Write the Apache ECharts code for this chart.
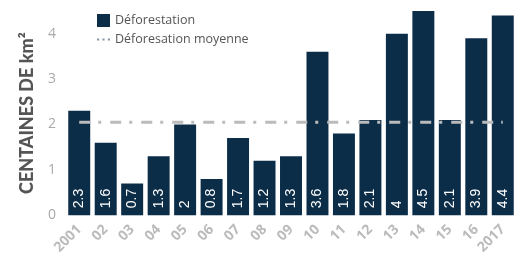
<!DOCTYPE html>
<html>
<head>
<meta charset="utf-8">
<script src="https://cdn.jsdelivr.net/npm/echarts@6/dist/echarts.min.js"></script>
<style>
  html, body { margin: 0; padding: 0; background: #fff; }
  #chart { width: 521px; height: 257px; }
</style>
</head>
<body>
<div id="chart"></div>
<script>
// years and deforestation values (centaines de km2)
var years = ['2001', '02', '03', '04', '05', '06', '07', '08', '09', '10', '11', '12', '13', '14', '15', '16', '2017'];
var deforestation = [2.3, 1.6, 0.7, 1.3, 2, 0.8, 1.7, 1.2, 1.3, 3.6, 1.8, 2.1, 4, 4.5, 2.1, 3.9, 4.4];
var moyenne = 2.05;
var yTicks = [0, 1, 2, 3, 4];

var myChart = echarts.init(document.getElementById('chart'));

var option = {
  animation: false,
  textStyle: { fontFamily: 'Open Sans' },
  grid: { left: 66, right: 5, top: 11, bottom: 40 },
  legend: {
    orient: 'vertical',
    left: 92,
    top: 9,
    itemWidth: 13,
    itemHeight: 13,
    itemGap: 6,
    textStyle: { color: '#555', fontSize: 12.5, fontFamily: 'Open Sans' },
    data: [
      { name: 'Déforestation', icon: 'rect' },
      { name: 'Déforesation moyenne', icon: 'path://M0,5h2v2h-2z M5,5h2v2h-2z M10,5h2v2h-2z M0,0h0.01v12h-0.01z', itemStyle: { color: '#8a97a8' } }
    ]
  },
  xAxis: {
    type: 'category',
    data: years,
    axisLine: { show: false },
    axisTick: { show: false },
    axisLabel: {
      rotate: 45,
      interval: 0,
      margin: 12,
      color: '#bbb',
      fontWeight: 'bold',
      fontSize: 14
    }
  },
  yAxis: {
    type: 'value',
    min: 0,
    max: 4.5,
    interval: 1,
    name: 'CENTAINES DE km²',
    nameLocation: 'middle',
    nameGap: 30,
    nameTextStyle: { color: '#555', fontWeight: 900, fontSize: 18, fontFamily: 'Lato' },
    splitLine: { show: false },
    axisLine: { show: false },
    axisTick: { show: false },
    axisLabel: {
      color: '#aaa',
      fontSize: 14,
      margin: 10,
      showMaxLabel: false,
      formatter: function (v) { return yTicks.indexOf(v) >= 0 ? v : ''; }
    }
  },
  series: [
    {
      name: 'Déforestation',
      type: 'bar',
      data: deforestation,
      barCategoryGap: '17%',
      itemStyle: { color: '#0c2d48' },
      label: {
        show: true,
        position: 'insideBottom',
        rotate: 90,
        align: 'left',
        verticalAlign: 'middle',
        distance: 7,
        color: '#fff',
        fontSize: 14,
        fontFamily: 'Liberation Sans'
      }
    },
    {
      name: 'Déforesation moyenne',
      type: 'line',
      data: years.map(function () { return moyenne; }),
      symbol: 'none',
      z: 5,
      lineStyle: { color: '#bbb', width: 3, type: [11, 8, 3, 9] }
    }
  ]
};

myChart.setOption(option);
</script>
</body>
</html>
